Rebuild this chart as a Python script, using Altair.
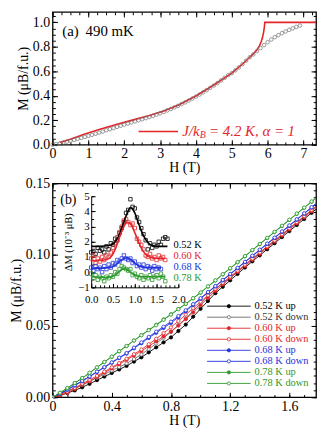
import altair as alt
import pandas as pd

FONT = "Liberation Serif"
RED = "#e3262a"
BLUE = "#2233dd"
GREEN = "#2c9a2c"

# ---------------- panel (a) ----------------
H_A = [0.0, 0.1, 0.2, 0.3, 0.4, 0.5, 0.6, 0.7, 0.8, 0.9,
       1.0, 1.1, 1.2, 1.3, 1.4, 1.5, 1.6, 1.7, 1.8, 1.9,
       2.0, 2.1, 2.2, 2.3, 2.4, 2.5, 2.6, 2.7, 2.8, 2.9,
       3.0, 3.1, 3.2, 3.3, 3.4, 3.5, 3.6, 3.7, 3.8, 3.9,
       4.0, 4.1, 4.2, 4.3, 4.4, 4.5, 4.6, 4.7, 4.8, 4.9,
       5.0, 5.1, 5.2, 5.3, 5.4, 5.5, 5.6, 5.7, 5.8, 5.9,
       6.0, 6.1, 6.2, 6.3, 6.4, 6.5, 6.6, 6.7, 6.8, 6.9]
M_A = [0.000, 0.005, 0.011, 0.018, 0.025, 0.032, 0.040, 0.048, 0.056, 0.064,
       0.072, 0.081, 0.090, 0.099, 0.108, 0.118, 0.127, 0.136, 0.146, 0.155,
       0.164, 0.173, 0.182, 0.191, 0.200, 0.208, 0.217, 0.226, 0.236, 0.246,
       0.257, 0.268, 0.280, 0.292, 0.305, 0.318, 0.332, 0.346, 0.361, 0.377,
       0.393, 0.410, 0.428, 0.446, 0.465, 0.484, 0.504, 0.525, 0.547, 0.570,
       0.585, 0.608, 0.632, 0.658, 0.687, 0.715, 0.738, 0.765, 0.790, 0.815,
       0.838, 0.860, 0.879, 0.896, 0.912, 0.926, 0.939, 0.951, 0.963, 0.974]
H_MODEL = [0.2, 0.5, 0.9, 1.3, 1.8, 2.2, 2.7, 3.1, 3.5, 4.0, 4.5, 5.0, 5.3, 5.5,
           5.6, 5.7, 5.77, 5.82, 5.86, 5.89, 5.91, 5.92, 7.5]
M_MODEL = [0.018, 0.045, 0.087, 0.124, 0.167, 0.199, 0.238, 0.275, 0.323, 0.398,
           0.488, 0.585, 0.660, 0.715, 0.742, 0.775, 0.808, 0.842, 0.880, 0.925,
           0.965, 1.0, 1.0]
XA_TICKS = [0, 1, 2, 3, 4, 5, 6, 7]
YA_TICKS = [0.0, 0.2, 0.4, 0.6, 0.8, 1.0]

# ---------------- panel (b) ----------------
H_B = [0.00, 0.05, 0.10, 0.15, 0.20, 0.25, 0.30, 0.35, 0.40, 0.45,
       0.50, 0.55, 0.60, 0.65, 0.70, 0.75, 0.80, 0.85, 0.90, 0.95,
       1.00, 1.05, 1.10, 1.15, 1.20, 1.25, 1.30, 1.35, 1.40, 1.45,
       1.50, 1.55, 1.60, 1.65, 1.70, 1.75, 1.80]
M_052_UP = [0, 0.0012, 0.003, 0.0048, 0.007, 0.0094, 0.012, 0.0145, 0.017, 0.0195,
            0.022, 0.025, 0.028, 0.0315, 0.035, 0.0385, 0.042, 0.0465, 0.051, 0.0565,
            0.062, 0.0675, 0.073, 0.0775, 0.082, 0.0865, 0.091, 0.0953, 0.0995, 0.1038,
            0.108, 0.1123, 0.1165, 0.1208, 0.125, 0.1293, 0.1335]
M_052_DN = [0, 0.0025, 0.0045, 0.0065, 0.0087, 0.0111, 0.0137, 0.0162, 0.0187, 0.0212,
            0.0237, 0.0268, 0.030, 0.0338, 0.0377, 0.0417, 0.0457, 0.0506, 0.0553, 0.0607,
            0.0658, 0.0708, 0.0758, 0.0798, 0.084, 0.0883, 0.0927, 0.097, 0.1012, 0.1055,
            0.1097, 0.114, 0.1182, 0.1225, 0.1267, 0.131, 0.1352]
M_060_UP = [0, 0.0013, 0.0032, 0.0058, 0.0087, 0.0114, 0.0142, 0.0172, 0.0202, 0.0232,
            0.0262, 0.0293, 0.0324, 0.0358, 0.0392, 0.0427, 0.0461, 0.0503, 0.0548, 0.0596,
            0.0646, 0.0696, 0.0745, 0.0791, 0.0835, 0.0879, 0.0921, 0.0964, 0.1006, 0.1049,
            0.1091, 0.1134, 0.1176, 0.1219, 0.1261, 0.1304, 0.1346]
M_060_DN = [0, 0.0019, 0.004, 0.0066, 0.0095, 0.0122, 0.015, 0.018, 0.021, 0.024,
            0.027, 0.0302, 0.0335, 0.0372, 0.041, 0.045, 0.049, 0.0535, 0.058, 0.0625,
            0.067, 0.0715, 0.076, 0.0803, 0.0845, 0.0888, 0.093, 0.0973, 0.1015, 0.1058,
            0.110, 0.1143, 0.1185, 0.1228, 0.127, 0.1313, 0.1355]
M_068_UP = [0, 0.0024, 0.0052, 0.0082, 0.0112, 0.0144, 0.0177, 0.0209, 0.0242, 0.0275,
            0.0306, 0.0343, 0.0379, 0.0416, 0.0452, 0.0486, 0.0521, 0.0561, 0.0603, 0.0648,
            0.0691, 0.0735, 0.0777, 0.082, 0.0862, 0.0905, 0.0947, 0.099, 0.1032, 0.1075,
            0.1117, 0.116, 0.1202, 0.1245, 0.1287, 0.133, 0.1372]
M_068_DN = [0, 0.0026, 0.0055, 0.0085, 0.0115, 0.0147, 0.018, 0.0212, 0.0245, 0.0278,
            0.031, 0.0348, 0.0385, 0.0423, 0.046, 0.0495, 0.053, 0.057, 0.061, 0.0653,
            0.0695, 0.0738, 0.078, 0.0823, 0.0865, 0.0908, 0.095, 0.0993, 0.1035, 0.1078,
            0.112, 0.1163, 0.1205, 0.1248, 0.129, 0.1333, 0.1375]
M_078_UP = [0, 0.0031, 0.0064, 0.0099, 0.0134, 0.0171, 0.0209, 0.0247, 0.0284, 0.0322,
            0.0359, 0.0398, 0.0436, 0.0472, 0.0508, 0.0546, 0.0582, 0.0619, 0.0655, 0.0694,
            0.0733, 0.0776, 0.0818, 0.0861, 0.0903, 0.0946, 0.0988, 0.1031, 0.1073, 0.1116,
            0.1158, 0.1201, 0.1243, 0.1286, 0.1328, 0.1371, 0.1413]
M_078_DN = [0, 0.0032, 0.0065, 0.010, 0.0135, 0.0172, 0.021, 0.0248, 0.0285, 0.0323,
            0.036, 0.0398, 0.0435, 0.047, 0.0505, 0.0543, 0.058, 0.0618, 0.0655, 0.0695,
            0.0735, 0.0778, 0.082, 0.0863, 0.0905, 0.0948, 0.099, 0.1033, 0.1075, 0.1118,
            0.116, 0.1203, 0.1245, 0.1288, 0.133, 0.1373, 0.1415]
SERIES = ["0.52 K up", "0.52 K down", "0.60 K up", "0.60 K down",
          "0.68 K up", "0.68 K down", "0.78 K up", "0.78 K down"]
SERIES_STROKE = ["#000000", "#6a6a6a", RED, RED, BLUE, BLUE, GREEN, GREEN]
SERIES_FILL = ["#000000", "#ffffff", RED, "#ffffff", BLUE, "#ffffff", GREEN, "#ffffff"]
LABEL_COLORS = ["#000000", "#333333", RED, RED, BLUE, BLUE, GREEN, GREEN]
XB_TICKS = [0, 0.4, 0.8, 1.2, 1.6]
YB_TICKS = [0.0, 0.05, 0.10, 0.15]

# ---------------- inset ----------------
TEMPS = ["0.52 K", "0.60 K", "0.68 K", "0.78 K"]
TEMP_COLORS = ["#000000", RED, BLUE, GREEN]
H_INSET = [0.00, 0.05, 0.10, 0.15, 0.20, 0.25, 0.30, 0.35, 0.40, 0.45,
           0.50, 0.55, 0.60, 0.65, 0.70, 0.75, 0.80, 0.85, 0.90, 0.95,
           1.00, 1.05, 1.10, 1.15, 1.20, 1.25, 1.30, 1.35, 1.40, 1.45,
           1.50, 1.55, 1.60, 1.65, 1.70, 1.75]
DM_052 = [1.3, 1.4, 1.2, 1.6, 1.4, 1.5, 1.3, 1.7, 1.5, 1.9,
          1.8, 2.2, 2.1, 2.6, 2.9, 3.3, 3.9, 4.1, 4.8, 4.3,
          4.2, 3.6, 3.3, 2.9, 2.5, 2.1, 1.5, 1.9, 1.6, 1.8,
          1.7, 2.0, 1.8, 2.2, 2.3, 2.2]
DM_060 = [0.9, 1.1, 0.6, 0.9, 0.7, 1.0, 0.8, 1.1, 1.0, 1.3,
          1.6, 1.9, 2.3, 2.6, 3.0, 3.4, 3.5, 3.3, 3.1, 3.2,
          2.9, 2.2, 2.0, 1.8, 1.5, 1.1, 1.0, 1.2, 0.9, 1.0,
          0.8, 1.1, 0.9, 1.0, 0.8]
DM_068 = [0.3, 0.1, 0.4, 0.2, 0.3, 0.0, 0.4, 0.2, 0.5, 0.3,
          0.6, 0.5, 0.8, 0.7, 0.9, 1.1, 0.9, 0.8, 0.9, 0.6,
          0.7, 0.4, 0.5, 0.3, 0.5, 0.2, 0.4, 0.3, 0.1, 0.4,
          0.2, 0.3, 0.2]
DM_078 = [-0.1, -0.4, -0.2, -0.5, -0.3, -0.4, -0.6, -0.3, -0.4, -0.2,
          -0.3, 0.0, -0.1, 0.2, 0.4, 0.3, 0.2, 0.1, 0.2, -0.2,
          -0.1, -0.3, -0.4, -0.2, -0.5, -0.3, -0.4, -0.2, -0.5, -0.3,
          -0.2, -0.4, -0.1, -0.3, -0.6]
H_FIT_052 = [0.0, 0.2, 0.4, 0.5, 0.6, 0.7, 0.8, 0.85, 0.9, 0.95, 1.0, 1.1, 1.2, 1.3, 1.4, 1.5, 1.75]
DM_FIT_052 = [1.7, 1.7, 1.75, 1.85, 2.2, 2.9, 3.7, 4.05, 4.25, 4.15, 3.9, 3.1, 2.4, 1.95, 1.75, 1.7, 1.7]
H_FIT_060 = [0.0, 0.3, 0.45, 0.55, 0.65, 0.75, 0.82, 0.9, 1.0, 1.1, 1.2, 1.3, 1.4, 1.55, 1.7]
DM_FIT_060 = [0.75, 0.8, 1.0, 1.5, 2.3, 3.0, 3.3, 3.2, 2.6, 1.9, 1.35, 1.05, 0.95, 0.9, 0.9]
H_FIT_068 = [0.0, 0.4, 0.55, 0.65, 0.75, 0.82, 0.9, 1.0, 1.1, 1.25, 1.6]
DM_FIT_068 = [0.25, 0.3, 0.45, 0.7, 0.9, 0.95, 0.85, 0.6, 0.4, 0.3, 0.3]
H_FIT_078 = [0.0, 0.4, 0.55, 0.65, 0.72, 0.78, 0.85, 0.95, 1.05, 1.2, 1.7]
DM_FIT_078 = [-0.3, -0.35, -0.2, 0.05, 0.2, 0.22, 0.1, -0.1, -0.25, -0.3, -0.3]
TEMP_LABEL_H = [1.89, 1.89, 1.89, 1.89]
TEMP_LABEL_DM = [1.8, 1.07, 0.34, -0.39]
XI_TICKS = [0.0, 0.5, 1.0, 1.5, 2.0]
YI_TICKS = [-1, 0, 1, 2, 3, 4, 5]

# ---------------- layout constants ----------------
W = 266
HA = 134
HB = 216
SPACING = 39
XA = [0, 7.35]
YA = [0, 1.085]
XB = [0, 1.78]
YB = [0, 0.15]
XI = [0, 2]
YI = [-1, 5]
XI_RANGE = [39, 127]
YI_RANGE = [105, 13]
LEG_X_RANGE = [156, 200]
LEG_Y_RANGE = [124, 202]
TICK_FS = 14
TITLE_FS = 14


def sc(dom, rng=None):
    if rng is None:
        return alt.Scale(domain=dom, nice=False, zero=False)
    return alt.Scale(domain=dom, range=rng, nice=False, zero=False)


def axis_layer(xdom, ydom, xaxis, yaxis, xr=None, yr=None):
    d = pd.DataFrame({"ax": [xdom[0]], "ay": [ydom[0]]})
    return alt.Chart(d).mark_point(opacity=0, size=1).encode(
        x=alt.X("ax:Q", scale=sc(xdom, xr), axis=xaxis),
        y=alt.Y("ay:Q", scale=sc(ydom, yr), axis=yaxis),
    )


def tick_axis(orient, values, size, offset):
    return alt.Axis(orient=orient, offset=offset, values=values, labels=False,
                    domain=False, ticks=True, tickSize=size, grid=False, title=None,
                    tickColor="black", tickWidth=1)


def frame(xdom, ydom, w, h, xmaj, ymaj, xmin, ymin, xlab_axis, ylab_axis):
    layers = [axis_layer(xdom, ydom, xlab_axis, ylab_axis)]
    for xv, yv, s in [(xmaj, ymaj, 5), (xmin, ymin, 2.8)]:
        layers.append(axis_layer(xdom, ydom, tick_axis("top", xv, s, -h),
                                 tick_axis("right", yv, s, -w)))
        layers.append(axis_layer(xdom, ydom, tick_axis("bottom", xv, s, -h),
                                 tick_axis("left", yv, s, -w)))
    return layers


def x_label_axis(values, title, **kw):
    return alt.Axis(orient="bottom", values=values, ticks=False, domain=False, grid=False,
                    title=title, labelPadding=2, titlePadding=0, labelFlush=False,
                    labelOverlap=False, **kw)


def y_label_axis(values, title, fmt):
    return alt.Axis(orient="left", values=values, format=fmt, ticks=False, domain=False,
                    grid=False, title=title, labelPadding=3, titlePadding=2,
                    labelFlush=False, labelOverlap=False)


# ---------------- panel (a) ----------------
xa_minor = [i * 0.25 for i in range(30)]
ya_minor = [i * 0.05 for i in range(22)]
xa_lab = x_label_axis(XA_TICKS, "H (T)", format="d")
ya_lab = y_label_axis(YA_TICKS, "M (μB/f.u.)", ".1f")

df_a = pd.DataFrame({"H": H_A, "M": M_A})
df_model = pd.DataFrame({"H": H_MODEL, "M": M_MODEL})
xa = alt.X("H:Q", scale=sc(XA), axis=None)
ya = alt.Y("M:Q", scale=sc(YA), axis=None)

a_model = alt.Chart(df_model).mark_line(color=RED, strokeWidth=1.6, clip=True).encode(x=xa, y=ya)
a_pts = alt.Chart(df_a).mark_point(shape="circle", filled=False, color="#707070",
                                   size=13, strokeWidth=0.7, opacity=1).encode(x=xa, y=ya)
key_df = pd.DataFrame({"H": [2.4], "H2": [3.5], "M": [0.108]})
a_key = alt.Chart(key_df).mark_rule(color=RED, strokeWidth=1.6).encode(x=xa, x2="H2:Q", y=ya)
lab_df = pd.DataFrame({"H": [3.62], "M": [0.108]})


def a_text(txt, size, dx=0, dy=0):
    return alt.Chart(lab_df).mark_text(
        text=txt, color=RED, fontSize=size, font=FONT, fontStyle="italic",
        align="left", baseline="middle", dx=dx, dy=dy).encode(x=xa, y=ya)


a_t1 = a_text("J/k", 15)
a_t2 = a_text("B", 10, dx=17.5, dy=4)
a_t3 = a_text("= 4.2 K, α = 1", 15, dx=27)
title_df = pd.DataFrame({"H": [0.27, 0.92], "M": [0.93, 0.93], "t": ["(a)", "490 mK"]})
a_title = alt.Chart(title_df).mark_text(align="left", baseline="middle", fontSize=15,
                                         font=FONT, color="black").encode(
    x=xa, y=ya, text="t:N")

panel_a = alt.layer(
    *frame(XA, YA, W, HA, XA_TICKS, YA_TICKS, xa_minor, ya_minor, xa_lab, ya_lab),
    a_model, a_pts, a_key, a_t1, a_t2, a_t3, a_title,
).resolve_axis(x="independent", y="independent")

# ---------------- panel (b) main ----------------
xb_minor = [i * 0.1 for i in range(18)]
yb_minor = [i * 0.005 for i in range(31)]
xb_lab = x_label_axis(XB_TICKS, "H (T)",
                      labelExpr="datum.value == 0 ? '0' : format(datum.value, '.1f')")
yb_lab = y_label_axis(YB_TICKS, "M (μB/f.u.)", ".2f")

rows = []
for name, vals in zip(SERIES, [M_052_UP, M_052_DN, M_060_UP, M_060_DN,
                               M_068_UP, M_068_DN, M_078_UP, M_078_DN]):
    for h, m in zip(H_B, vals):
        rows.append({"H": h, "M": m, "series": name})
df_b = pd.DataFrame(rows)

stroke_enc = alt.Stroke("series:N", scale=alt.Scale(domain=SERIES, range=SERIES_STROKE),
                        legend=None)
fill_enc = alt.Fill("series:N", scale=alt.Scale(domain=SERIES, range=SERIES_FILL),
                    legend=None)
xb = alt.X("H:Q", scale=sc(XB), axis=None)
yb = alt.Y("M:Q", scale=sc(YB), axis=None)

b_lines = alt.Chart(df_b).mark_line(strokeWidth=0.9, clip=True).encode(
    x=xb, y=yb, stroke=stroke_enc)
b_pts = alt.Chart(df_b).mark_point(shape="circle", filled=True, size=11, strokeWidth=0.8,
                                   opacity=1, clip=True).encode(
    x=xb, y=yb, stroke=stroke_enc, fill=fill_enc)
btitle_df = pd.DataFrame({"H": [0.052], "M": [0.1386], "t": ["(b)"]})
b_title = alt.Chart(btitle_df).mark_text(align="left", baseline="middle", fontSize=14,
                                          font=FONT, color="black").encode(
    x=xb, y=yb, text="t:N")

main_b = alt.layer(
    *frame(XB, YB, W, HB, XB_TICKS, YB_TICKS, xb_minor, yb_minor, xb_lab, yb_lab),
    b_lines, b_pts, b_title,
).resolve_axis(x="independent", y="independent")

# ---------------- legend of panel (b) ----------------
leg_df = pd.DataFrame({"series": SERIES, "x0": [0.0] * 8, "x1": [1.0] * 8,
                       "xm": [0.5] * 8, "xt": [1.09] * 8})
lx_scale = sc([0, 1], LEG_X_RANGE)
ly = alt.Y("series:N", scale=alt.Scale(type="point", domain=SERIES, range=LEG_Y_RANGE,
                                       padding=0), axis=None)
leg_rule = alt.Chart(leg_df).mark_rule(strokeWidth=0.9).encode(
    x=alt.X("x0:Q", scale=lx_scale, axis=None), x2="x1:Q", y=ly, stroke=stroke_enc)
leg_pt = alt.Chart(leg_df).mark_point(shape="circle", filled=True, size=11,
                                      strokeWidth=0.8, opacity=1).encode(
    x=alt.X("xm:Q", scale=lx_scale, axis=None), y=ly, stroke=stroke_enc, fill=fill_enc)
leg_txt = alt.Chart(leg_df).mark_text(align="left", baseline="middle", fontSize=10.5,
                                      font=FONT).encode(
    x=alt.X("xt:Q", scale=lx_scale, axis=None), y=ly, text="series:N",
    color=alt.Color("series:N", scale=alt.Scale(domain=SERIES, range=LABEL_COLORS),
                    legend=None))
legend_b = alt.layer(leg_rule, leg_pt, leg_txt)

# ---------------- inset ----------------
ins_rows = []
for t, vals in zip(TEMPS, [DM_052, DM_060, DM_068, DM_078]):
    for h, v in zip(H_INSET, vals):
        ins_rows.append({"H": h, "dM": v, "T": t})
df_ins = pd.DataFrame(ins_rows)
fit_rows = []
for t, hs, vs in zip(TEMPS, [H_FIT_052, H_FIT_060, H_FIT_068, H_FIT_078],
                     [DM_FIT_052, DM_FIT_060, DM_FIT_068, DM_FIT_078]):
    for h, v in zip(hs, vs):
        fit_rows.append({"H": h, "dM": v, "T": t})
df_fit = pd.DataFrame(fit_rows)
df_tl = pd.DataFrame({"H": TEMP_LABEL_H, "dM": TEMP_LABEL_DM, "T": TEMPS})

col_enc = alt.Color("T:N", scale=alt.Scale(domain=TEMPS, range=TEMP_COLORS), legend=None)
xi = alt.X("H:Q", scale=sc(XI, XI_RANGE), axis=None)
yi = alt.Y("dM:Q", scale=sc(YI, YI_RANGE), axis=None)

xi_lab = alt.Axis(orient="bottom", offset=-(HB - YI_RANGE[0]), values=XI_TICKS, format=".1f",
                  ticks=False, domain=True, domainColor="black", domainWidth=1, grid=False,
                  title=None, labelFontSize=11, labelPadding=6, labelFlush=False,
                  labelOverlap=False)
yi_lab = alt.Axis(orient="left", offset=-XI_RANGE[0], values=YI_TICKS, format="d",
                  ticks=False, domain=True, domainColor="black", domainWidth=1, grid=False,
                  title="ΔM (10⁻³ μB)", titleFontSize=10.5, titlePadding=4,
                  labelFontSize=11, labelPadding=2, labelFlush=False, labelOverlap=False)
xi_minor = [i * 0.1 for i in range(21)]
yi_minor = [-1 + i * 0.5 for i in range(13)]

ins_axes = [
    axis_layer(XI, YI, xi_lab, yi_lab, XI_RANGE, YI_RANGE),
    axis_layer(XI, YI, tick_axis("top", XI_TICKS, 4, -YI_RANGE[0]),
               tick_axis("right", YI_TICKS, 4, -(W - XI_RANGE[0])), XI_RANGE, YI_RANGE),
    axis_layer(XI, YI, tick_axis("top", xi_minor, 2.5, -YI_RANGE[0]),
               tick_axis("right", yi_minor, 2.5, -(W - XI_RANGE[0])), XI_RANGE, YI_RANGE),
]
ins_pts = alt.Chart(df_ins).mark_point(shape="square", filled=False, size=12,
                                       strokeWidth=0.8, opacity=1).encode(
    x=xi, y=yi, color=col_enc)
ins_fit = alt.Chart(df_fit).mark_line(strokeWidth=1.6, interpolate="monotone").encode(
    x=xi, y=yi, color=col_enc)
ins_lab = alt.Chart(df_tl).mark_text(align="left", baseline="middle", fontSize=10.5,
                                      font=FONT).encode(
    x=xi, y=yi, color=col_enc, text="T:N")

inset = alt.layer(*ins_axes, ins_pts, ins_fit, ins_lab).resolve_axis(
    x="independent", y="independent")

panel_b = alt.layer(main_b, inset, legend_b).resolve_scale(
    x="independent", y="independent", color="independent")

chart = alt.vconcat(
    panel_a.properties(width=W, height=HA),
    panel_b.properties(width=W, height=HB),
    spacing=SPACING, bounds="flush",
).properties(
    padding={"left": 0, "top": 0, "right": 1, "bottom": 0}
).configure_view(
    stroke="black", strokeWidth=1.3
).configure_axis(
    labelFont=FONT, titleFont=FONT, labelFontSize=TICK_FS, titleFontSize=TITLE_FS,
    titleFontWeight="normal", labelColor="black", titleColor="black",
    tickColor="black", domainColor="black"
).configure_text(font=FONT)

chart.save("out.html", embed_options={"renderer": "svg", "actions": False})
